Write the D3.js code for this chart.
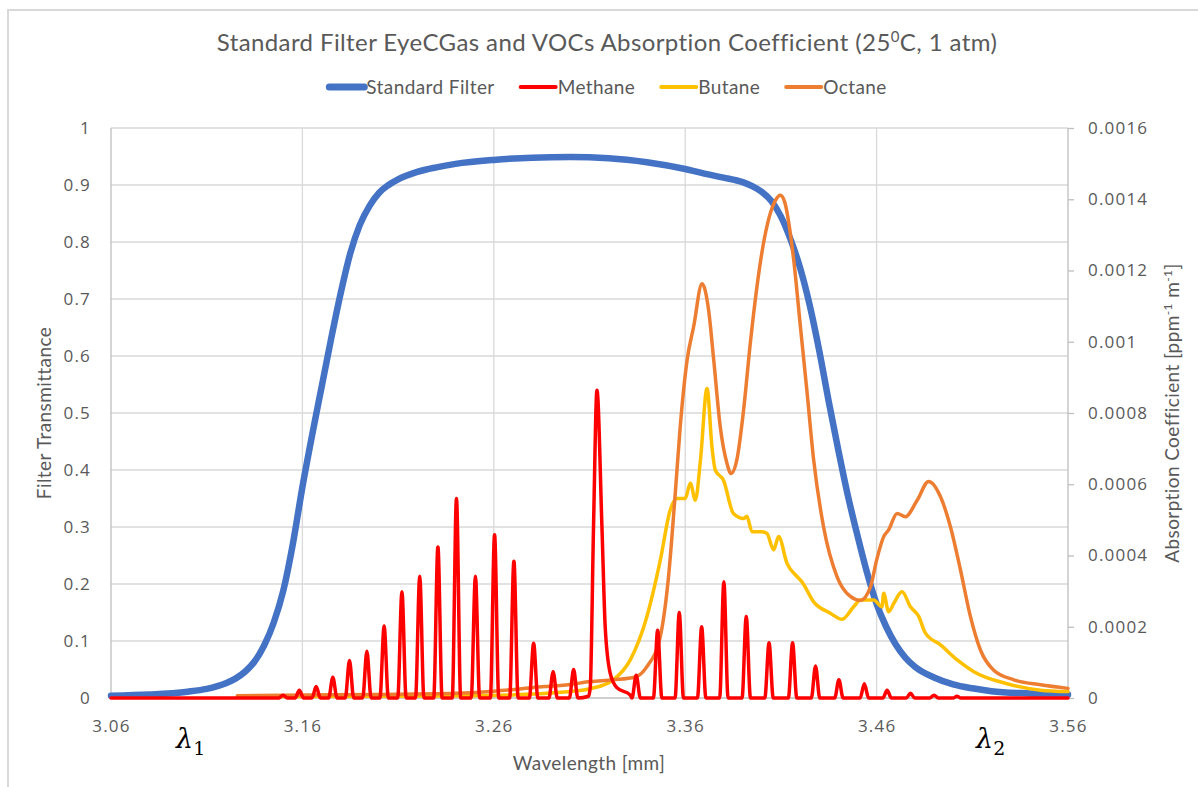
<!DOCTYPE html>
<html>
<head>
<meta charset="utf-8">
<script src="https://cdn.jsdelivr.net/npm/d3@7/dist/d3.min.js"></script>
<style>
  body { margin: 0; background: #fff; }
  svg text { fill: #595959; }
  .tick text { font-family: "Open Sans", sans-serif; font-size: 17px; letter-spacing: 1.2px; }
  .grid line { stroke: #d9d9d9; stroke-width: 1.3; }
  .axis-line { stroke: #bfbfbf; stroke-width: 1.3; }
  .label { font-family: Lato, sans-serif; letter-spacing: 0.4px; }
</style>
</head>
<body>
<div id="wrapper"></div>
<script>
// 1. Data

const seriesNames = ["Standard Filter", "Methane", "Butane", "Octane"]

const xTicks = [3.06, 3.16, 3.26, 3.36, 3.46, 3.56]
const leftTicks = [0, 0.1, 0.2, 0.3, 0.4, 0.5, 0.6, 0.7, 0.8, 0.9, 1]
const rightTicks = [0, 0.0002, 0.0004, 0.0006, 0.0008, 0.001, 0.0012, 0.0014, 0.0016]

// [wavelength, transmittance]
const filterData = [
  [3.06, 0.004], [3.08, 0.006], [3.10, 0.011], [3.11, 0.016], [3.12, 0.026],
  [3.125, 0.034], [3.13, 0.046], [3.135, 0.064], [3.14, 0.092], [3.145, 0.132],
  [3.15, 0.188], [3.155, 0.27], [3.16, 0.37], [3.165, 0.46], [3.17, 0.545],
  [3.175, 0.63], [3.18, 0.71], [3.185, 0.78], [3.19, 0.83], [3.195, 0.863],
  [3.20, 0.886], [3.205, 0.9], [3.21, 0.91], [3.22, 0.923], [3.23, 0.931], [3.24, 0.937],
  [3.26, 0.944], [3.28, 0.948], [3.30, 0.949], [3.32, 0.947], [3.34, 0.94],
  [3.36, 0.928], [3.37, 0.92], [3.38, 0.913], [3.39, 0.905], [3.395, 0.898],
  [3.40, 0.888], [3.405, 0.872], [3.41, 0.845], [3.415, 0.805], [3.42, 0.755],
  [3.425, 0.69], [3.43, 0.61], [3.435, 0.52], [3.44, 0.435], [3.445, 0.355],
  [3.45, 0.285], [3.455, 0.22], [3.46, 0.165], [3.465, 0.125], [3.47, 0.094],
  [3.475, 0.071], [3.48, 0.055], [3.49, 0.036], [3.50, 0.024], [3.51, 0.017],
  [3.52, 0.012], [3.54, 0.008], [3.56, 0.006]
]

// [wavelength, absorption coefficient]
const methaneData = [
  [3.0600, 0], [3.1477, 0], [3.1499, 0.000008], [3.1521, 0],
  [3.1562, 0], [3.1584, 0.000022], [3.1606, 0],
  [3.1650, 0], [3.1672, 0.000032], [3.1694, 0],
  [3.1737, 0], [3.1759, 0.000058], [3.1781, 0],
  [3.1824, 0], [3.1846, 0.000105], [3.1868, 0],
  [3.1915, 0], [3.1937, 0.000131], [3.1959, 0],
  [3.2005, 0], [3.2027, 0.000202], [3.2049, 0],
  [3.2098, 0], [3.2120, 0.000298], [3.2142, 0],
  [3.2191, 0], [3.2213, 0.000342], [3.2235, 0],
  [3.2286, 0], [3.2308, 0.000424], [3.2330, 0],
  [3.2383, 0], [3.2405, 0.000560], [3.2427, 0],
  [3.2482, 0], [3.2504, 0.000342], [3.2526, 0],
  [3.2582, 0], [3.2604, 0.000458], [3.2626, 0],
  [3.2683, 0], [3.2705, 0.000384], [3.2727, 0],
  [3.2786, 0], [3.2808, 0.000154], [3.2830, 0],
  [3.2888, 0], [3.2910, 0.000074], [3.2932, 0],
  [3.2995, 0], [3.3017, 0.000080], [3.3039, 0],
  [3.3095, 0.000005], [3.3104, 0.00003], [3.3121, 0.00048], [3.3139, 0.000864],
  [3.3165, 0.00048], [3.3182, 0.0002], [3.3208, 0.00007], [3.3243, 0.000029], [3.3313, 0.000008],
  [3.3322, 0], [3.3344, 0.000064], [3.3366, 0],
  [3.3434, 0], [3.3456, 0.000190], [3.3478, 0],
  [3.3547, 0], [3.3569, 0.000240], [3.3591, 0],
  [3.3664, 0], [3.3686, 0.000200], [3.3708, 0],
  [3.3780, 0], [3.3802, 0.000326], [3.3824, 0],
  [3.3897, 0], [3.3919, 0.000229], [3.3941, 0],
  [3.4016, 0], [3.4038, 0.000155], [3.4060, 0],
  [3.4139, 0], [3.4161, 0.000155], [3.4183, 0],
  [3.4259, 0], [3.4281, 0.000090], [3.4303, 0],
  [3.4381, 0], [3.4403, 0.000051], [3.4425, 0],
  [3.4514, 0], [3.4536, 0.000040], [3.4558, 0],
  [3.4633, 0], [3.4655, 0.000022], [3.4677, 0],
  [3.4755, 0], [3.4777, 0.000013], [3.4799, 0],
  [3.4878, 0], [3.4900, 0.000008], [3.4922, 0],
  [3.5000, 0], [3.5020, 0.000005], [3.5040, 0],
  [3.5600, 0]
]

const butaneData = [
  [3.126, 0.000003], [3.20, 0.000005], [3.25, 0.000006], [3.28, 0.000011],
  [3.30, 0.000018], [3.3104, 0.000026], [3.3224, 0.000051], [3.3313, 0.000107],
  [3.34, 0.000229], [3.347, 0.000387], [3.3522, 0.000528], [3.3557, 0.00056],
  [3.36, 0.00056], [3.3627, 0.000603], [3.3653, 0.000555], [3.368, 0.000669],
  [3.3714, 0.000869], [3.374, 0.000704], [3.3757, 0.00064], [3.38, 0.000611],
  [3.3852, 0.000518], [3.3905, 0.000504], [3.3922, 0.00051], [3.3949, 0.000467],
  [3.40, 0.000467], [3.4027, 0.000462], [3.4062, 0.000416], [3.4088, 0.000453],
  [3.4132, 0.000378], [3.4184, 0.000341], [3.421, 0.000326], [3.4271, 0.00027],
  [3.4358, 0.000238], [3.442, 0.000221], [3.448, 0.000256], [3.4515, 0.000275],
  [3.4585, 0.000275], [3.4628, 0.000256], [3.4637, 0.000294], [3.4663, 0.000242],
  [3.469, 0.000266], [3.4733, 0.000298], [3.4777, 0.000256], [3.482, 0.000229],
  [3.4855, 0.000182], [3.4934, 0.000149], [3.5021, 0.000107], [3.5108, 0.000074],
  [3.5282, 0.00004], [3.5456, 0.000022], [3.56, 0.000018]
]

const octaneData = [
  [3.126, 0.000006], [3.15, 0.000008], [3.20, 0.00001], [3.24, 0.000013],
  [3.26, 0.000019], [3.28, 0.000029], [3.30, 0.000038], [3.3104, 0.000046],
  [3.3224, 0.000051], [3.334, 0.000059], [3.34, 0.000088], [3.347, 0.000173],
  [3.3513, 0.000341], [3.3548, 0.000574], [3.3574, 0.000762], [3.361, 0.000949],
  [3.3644, 0.001042], [3.3688, 0.001163], [3.3722, 0.00109], [3.3749, 0.000949],
  [3.3783, 0.000762], [3.3818, 0.000659], [3.3839, 0.00063], [3.387, 0.000669],
  [3.3905, 0.000808], [3.394, 0.000995], [3.3975, 0.001155], [3.4005, 0.001264],
  [3.404, 0.001352], [3.4075, 0.0014], [3.4097, 0.001411], [3.412, 0.001392],
  [3.4145, 0.00132], [3.4167, 0.001229], [3.4202, 0.001042], [3.4237, 0.000856],
  [3.4271, 0.000669], [3.4323, 0.00048], [3.4393, 0.000341], [3.4463, 0.000285],
  [3.4515, 0.000274], [3.4568, 0.000312], [3.46, 0.000387], [3.4637, 0.000453],
  [3.4663, 0.000472], [3.4707, 0.000518], [3.475, 0.000509], [3.4812, 0.000555],
  [3.4872, 0.000608], [3.4934, 0.000565], [3.4986, 0.00048], [3.5038, 0.00036],
  [3.509, 0.000229], [3.5143, 0.000134], [3.5212, 0.000078], [3.5317, 0.000051],
  [3.5456, 0.000037], [3.56, 0.000027]
]

// 2. Dimensions

const width = 1198
const height = 787
const margin = { top: 128, right: 130, bottom: 89, left: 111 }
const boundedWidth = width - margin.left - margin.right
const boundedHeight = height - margin.top - margin.bottom

const colors = {
  "Standard Filter": "#4472c4",
  "Methane": "#ff0000",
  "Butane": "#ffc000",
  "Octane": "#ed7d31",
}

// 3. Canvas

const svg = d3.select("#wrapper").append("svg")
    .attr("width", width)
    .attr("height", height)

svg.append("rect")
    .attr("width", width).attr("height", height)
    .attr("fill", "#fff")

// outer chart border (only top and left edges are in frame)
svg.append("path")
    .attr("d", `M8,${height} V10 H${width}`)
    .attr("fill", "none")
    .attr("stroke", "#d9d9d9")
    .attr("stroke-width", 2)

const bounds = svg.append("g")
    .attr("transform", `translate(${margin.left},${margin.top})`)

// 4. Scales

const x = d3.scaleLinear().domain([3.06, 3.56]).range([0, boundedWidth])
const yLeft = d3.scaleLinear().domain([0, 1]).range([boundedHeight, 0])
const yRight = d3.scaleLinear().domain([0, 0.0016]).range([boundedHeight, 0])

// 5. Grid + axes

bounds.append("g").attr("class", "grid")
  .selectAll("line").data(leftTicks.slice(1))
  .join("line")
    .attr("x1", 0).attr("x2", boundedWidth)
    .attr("y1", d => yLeft(d)).attr("y2", d => yLeft(d))

bounds.append("g").attr("class", "grid")
  .selectAll("line").data(xTicks.slice(1, -1))
  .join("line")
    .attr("x1", d => x(d)).attr("x2", d => x(d))
    .attr("y1", 0).attr("y2", boundedHeight)

const fmt = d => String(+d.toFixed(5))

const leftAxis = bounds.append("g")
    .call(d3.axisLeft(yLeft).tickValues(leftTicks).tickFormat(fmt).tickSize(0).tickPadding(20))
leftAxis.select(".domain").remove()

const rightAxis = bounds.append("g")
    .attr("transform", `translate(${boundedWidth},0)`)
    .call(d3.axisRight(yRight).tickValues(rightTicks).tickFormat(fmt).tickSize(6).tickPadding(14))
rightAxis.select(".domain").remove()
rightAxis.selectAll(".tick line").attr("stroke", "#bfbfbf").attr("stroke-width", 1.3)

const bottomAxis = bounds.append("g")
    .attr("transform", `translate(0,${boundedHeight})`)
    .call(d3.axisBottom(x).tickValues(xTicks).tickFormat(d3.format(".2f")).tickSize(0).tickPadding(22))
bottomAxis.select(".domain").remove()

bounds.selectAll(".tick text").attr("fill", "#595959")

bounds.append("line").attr("class", "axis-line")
    .attr("x1", 0).attr("x2", 0).attr("y1", 0).attr("y2", boundedHeight)
bounds.append("line").attr("class", "axis-line")
    .attr("x1", boundedWidth).attr("x2", boundedWidth).attr("y1", 0).attr("y2", boundedHeight)
bounds.append("line").attr("class", "axis-line")
    .attr("x1", 0).attr("x2", boundedWidth).attr("y1", boundedHeight).attr("y2", boundedHeight)

// 6. Lines

const lineLeft = d3.line()
    .x(d => x(d[0])).y(d => yLeft(d[1]))
    .curve(d3.curveMonotoneX)
const lineRight = d3.line()
    .x(d => x(d[0])).y(d => yRight(d[1]))
    .curve(d3.curveMonotoneX)

const drawLine = (data, gen, name, w) => bounds.append("path")
    .attr("d", gen(data))
    .attr("fill", "none")
    .attr("stroke", colors[name])
    .attr("stroke-width", w)
    .attr("stroke-linejoin", "round")
    .attr("stroke-linecap", "round")

drawLine(filterData, lineLeft, "Standard Filter", 6.5)
drawLine(butaneData, lineRight, "Butane", 3.5)
drawLine(octaneData, lineRight, "Octane", 3.5)
drawLine(methaneData, lineRight, "Methane", 3.5)

// 7. Titles, legend, labels

const title = svg.append("text").attr("class", "label")
    .attr("x", 607).attr("y", 51)
    .attr("text-anchor", "middle")
    .style("font-size", "24px")
title.append("tspan").text("Standard Filter EyeCGas and VOCs Absorption Coefficient (25")
title.append("tspan").text("0").attr("dy", -9).style("font-size", "15px")
title.append("tspan").text("C, 1 atm)").attr("dy", 9)

const legend = svg.append("g").attr("transform", "translate(0,87)")
const items = legend.selectAll("g").data(seriesNames).join("g")
items.append("line")
    .attr("x1", 0).attr("x2", 35)
    .attr("stroke", d => colors[d])
    .attr("stroke-width", d => d == "Standard Filter" ? 7 : 4)
    .attr("stroke-linecap", "round")
items.append("text").attr("class", "label")
    .attr("x", 37).attr("y", 6.5)
    .style("font-size", "19px")
    .text(d => d)
let cursor = 0
const offsets = []
items.each(function() {
  offsets.push(cursor)
  cursor += 37 + d3.select(this).select("text").node().getComputedTextLength() + 26
})
const legendStart = 608 - (cursor - 26) / 2
items.attr("transform", (d, i) => `translate(${legendStart + offsets[i]},0)`)

svg.append("text").attr("class", "label")
    .attr("transform", `translate(51,${margin.top + boundedHeight / 2}) rotate(-90)`)
    .attr("text-anchor", "middle")
    .style("font-size", "19px")
    .text("Filter Transmittance")

const rightTitle = svg.append("text").attr("class", "label")
    .attr("transform", `translate(1179,${margin.top + boundedHeight / 2}) rotate(-90)`)
    .attr("text-anchor", "middle")
    .style("font-size", "19px")
rightTitle.append("tspan").text("Absorption Coefficient [ppm")
rightTitle.append("tspan").text("-1").attr("dy", -7).style("font-size", "12px")
rightTitle.append("tspan").text(" m").attr("dy", 7)
rightTitle.append("tspan").text("-1").attr("dy", -7).style("font-size", "12px")
rightTitle.append("tspan").text("]").attr("dy", 7)

svg.append("text").attr("class", "label")
    .attr("x", 589).attr("y", 770)
    .attr("text-anchor", "middle")
    .style("font-size", "19px")
    .text("Wavelength [mm]")

const lambdas = [{ sub: "1", x: 176 }, { sub: "2", x: 976 }]
lambdas.forEach(l => {
  const t = svg.append("text")
      .attr("x", l.x).attr("y", 748)
      .style("font-family", "'DejaVu Serif', serif")
      .style("font-style", "italic")
      .style("font-size", "27px")
      .style("fill", "#000")
  t.append("tspan").text("λ")
  t.append("tspan").text(l.sub).attr("dy", 7).style("font-size", "19px").style("font-style", "normal")
})
</script>
</body>
</html>
